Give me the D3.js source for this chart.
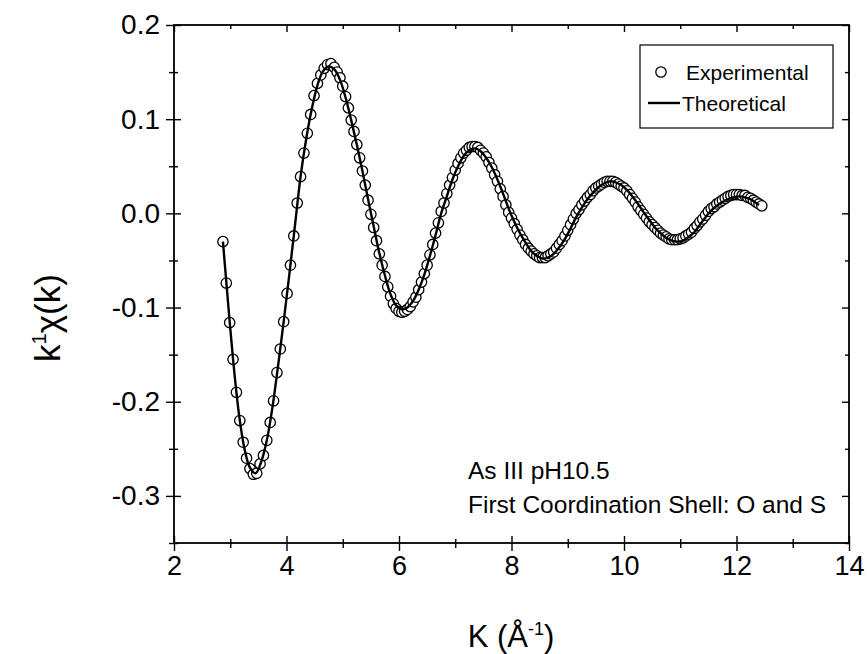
<!DOCTYPE html>
<html><head><meta charset="utf-8">
<script src="https://cdn.jsdelivr.net/npm/d3@7"></script>
<style>
html,body{margin:0;padding:0;background:#fff;}
text{font-family:"Liberation Sans",Arial,Helvetica,sans-serif;fill:#000;}
</style></head>
<body><svg id="chart" width="868" height="654"></svg>
<script>
// ---- data ----
const kExp = [2.87,2.93,2.99,3.05,3.11,3.17,3.23,3.29,3.35,3.41,3.47,3.53,3.59,3.65,3.71,3.77,3.83,3.89,3.95,4.01,4.07,4.13,4.19,4.25,4.31,4.37,4.43,4.49,4.55,4.61,4.67,4.73,4.79,4.85,
4.90,4.95,5.00,5.05,5.10,5.15,5.20,5.25,5.30,5.35,5.40,5.45,5.50,5.55,5.60,5.65,5.70,5.75,5.80,5.85,5.90,5.95,
6.00,6.05,6.10,6.15,6.20,6.25,6.30,6.35,6.40,6.45,6.50,6.55,6.60,6.65,6.70,6.75,6.80,6.85,6.90,6.95,
7.00,7.05,7.10,7.15,7.20,7.25,7.30,7.35,7.40,7.45,7.50,7.55,7.60,7.65,7.70,7.75,7.80,7.85,7.90,7.95,
8.00,8.05,8.10,8.15,8.20,8.25,8.30,8.35,8.40,8.45,8.50,8.55,8.60,8.65,8.70,8.75,8.80,8.85,8.90,8.95,
9.00,9.05,9.10,9.15,9.20,9.25,9.30,9.35,9.40,9.45,9.50,9.55,9.60,9.65,9.70,9.75,9.80,9.85,9.90,9.95,
10.00,10.05,10.10,10.15,10.20,10.25,10.30,10.35,10.40,10.45,10.50,10.55,10.60,10.65,10.70,10.75,10.80,10.85,10.90,10.95,
11.00,11.05,11.10,11.15,11.20,11.25,11.30,11.35,11.40,11.45,11.50,11.55,11.60,11.65,11.70,11.75,11.80,11.85,11.90,11.95,
12.00,12.05,12.10,12.15,12.20,12.25,12.30,12.35,12.40,12.45];
const chiExp = [-0.030,-0.074,-0.116,-0.155,-0.190,-0.220,-0.243,-0.260,-0.271,-0.277,-0.276,-0.266,-0.257,-0.241,-0.222,-0.199,-0.169,-0.144,-0.115,-0.085,-0.055,-0.024,0.011,0.039,0.064,0.085,0.105,0.125,0.138,0.147,0.154,0.158,0.159,0.155,
0.150,0.144,0.135,0.124,0.112,0.099,0.087,0.073,0.059,0.045,0.030,0.014,-0.001,-0.015,-0.029,-0.043,-0.055,-0.067,-0.078,-0.088,-0.096,-0.101,
-0.104,-0.105,-0.104,-0.102,-0.099,-0.094,-0.089,-0.081,-0.073,-0.064,-0.055,-0.044,-0.033,-0.021,-0.010,0.002,0.011,0.021,0.030,0.038,
0.046,0.053,0.059,0.064,0.067,0.070,0.071,0.071,0.070,0.067,0.064,0.060,0.054,0.048,0.041,0.034,0.026,0.018,0.009,0.001,
-0.005,-0.011,-0.017,-0.023,-0.028,-0.033,-0.037,-0.040,-0.043,-0.045,-0.047,-0.047,-0.047,-0.045,-0.043,-0.041,-0.037,-0.033,-0.029,-0.024,
-0.018,-0.012,-0.006,0.000,0.004,0.009,0.013,0.017,0.020,0.024,0.027,0.029,0.031,0.033,0.034,0.034,0.034,0.033,0.031,0.029,
0.027,0.024,0.020,0.016,0.012,0.007,0.003,-0.001,-0.005,-0.009,-0.012,-0.015,-0.018,-0.021,-0.023,-0.025,-0.027,-0.028,-0.028,-0.028,
-0.027,-0.026,-0.024,-0.022,-0.020,-0.016,-0.013,-0.009,-0.006,-0.002,0.002,0.005,0.007,0.010,0.012,0.014,0.016,0.018,0.019,0.020,
0.020,0.020,0.019,0.019,0.017,0.016,0.014,0.012,0.010,0.008];

const kTheo = [2.87,2.95,3.05,3.15,3.25,3.35,3.45,3.55,3.65,3.75,3.85,3.95,4.05,4.15,4.25,4.35,4.45,4.55,4.65,4.75,4.85,4.95,
5.05,5.15,5.25,5.35,5.45,5.55,5.65,5.75,5.85,5.95,6.05,6.15,6.25,6.35,6.45,6.55,6.65,6.75,6.85,6.95,
7.05,7.15,7.25,7.35,7.45,7.55,7.65,7.75,7.85,7.95,8.05,8.15,8.25,8.35,8.45,8.55,8.65,8.75,8.85,8.95,
9.05,9.15,9.25,9.35,9.45,9.55,9.65,9.75,9.85,9.95,10.05,10.15,10.25,10.35,10.45,10.55,10.65,10.75,10.85,10.95,
11.05,11.15,11.25,11.35,11.45,11.55,11.65,11.75,11.85,11.95,12.05,12.15,12.25,12.35,12.40];
const chiTheo = [-0.030,-0.087,-0.155,-0.211,-0.249,-0.270,-0.276,-0.264,-0.241,-0.206,-0.162,-0.115,-0.065,-0.013,0.039,0.079,0.111,0.136,0.151,0.156,0.153,0.142,
0.123,0.099,0.073,0.045,0.015,-0.014,-0.042,-0.066,-0.086,-0.098,-0.102,-0.100,-0.093,-0.081,-0.065,-0.045,-0.023,0.000,0.018,0.036,
0.050,0.061,0.067,0.069,0.066,0.059,0.049,0.036,0.021,0.005,-0.009,-0.021,-0.031,-0.040,-0.045,-0.048,-0.047,-0.043,-0.036,-0.027,
-0.016,-0.004,0.006,0.015,0.022,0.028,0.032,0.034,0.033,0.030,0.025,0.018,0.010,0.001,-0.007,-0.015,-0.021,-0.026,-0.029,-0.030,
-0.029,-0.025,-0.020,-0.012,-0.004,0.003,0.008,0.012,0.015,0.017,0.018,0.017,0.015,0.011,0.009];

const xTickValues = [2,4,6,8,10,12,14];
const xTickLabels = ["2","4","6","8","10","12","14"];
const xMinorValues = [3,5,7,9,11,13];
const yTickValues = [0.2,0.1,0.0,-0.1,-0.2,-0.3];
const yTickLabels = ["0.2","0.1","0.0","-0.1","-0.2","-0.3"];
const yMinorValues = [0.15,0.05,-0.05,-0.15,-0.25,-0.35];
const legendLabels = ["Experimental","Theoretical"];
const noteLines = ["As III pH10.5","First Coordination Shell: O and S"];

// ---- layout ----
const svg = d3.select("#chart");
const L = 174, R = 849, T = 25, B = 543;
const x = d3.scaleLinear().domain([2,14]).range([L,R]);
const y = d3.scaleLinear().domain([-0.35,0.2]).range([B,T]);

function styleAxis(g){
  g.select(".domain").remove();
  g.selectAll(".tick line").attr("stroke","#000").attr("stroke-width",1.4);
  g.selectAll(".tick text").attr("font-family",'"Liberation Sans",Arial,sans-serif');
}
// bottom: outward with labels, inward
svg.append("g").attr("transform",`translate(0,${B})`)
  .call(d3.axisBottom(x).tickValues(xTickValues).tickFormat((d,i)=>xTickLabels[i]).tickSize(8).tickPadding(5))
  .call(styleAxis)
  .call(g=>g.selectAll(".tick text").attr("font-size",27));
svg.append("g").attr("transform",`translate(0,${B})`)
  .call(d3.axisBottom(x).tickValues(xMinorValues).tickFormat("").tickSize(5)).call(styleAxis);
svg.append("g").attr("transform",`translate(0,${B})`)
  .call(d3.axisBottom(x).tickValues(xTickValues).tickFormat("").tickSize(-7)).call(styleAxis);
svg.append("g").attr("transform",`translate(0,${B})`)
  .call(d3.axisBottom(x).tickValues(xMinorValues).tickFormat("").tickSize(-4)).call(styleAxis);
// top: inward
svg.append("g").attr("transform",`translate(0,${T})`)
  .call(d3.axisTop(x).tickValues(xTickValues).tickFormat("").tickSize(-7)).call(styleAxis);
svg.append("g").attr("transform",`translate(0,${T})`)
  .call(d3.axisTop(x).tickValues(xMinorValues).tickFormat("").tickSize(-4)).call(styleAxis);
// left
svg.append("g").attr("transform",`translate(${L},0)`)
  .call(d3.axisLeft(y).tickValues(yTickValues).tickFormat((d,i)=>yTickLabels[i]).tickSize(8).tickPadding(6))
  .call(styleAxis)
  .call(g=>g.selectAll(".tick text").attr("font-size",28));
svg.append("g").attr("transform",`translate(${L},0)`)
  .call(d3.axisLeft(y).tickValues(yMinorValues).tickFormat("").tickSize(5)).call(styleAxis);
svg.append("g").attr("transform",`translate(${L},0)`)
  .call(d3.axisLeft(y).tickValues(yTickValues).tickFormat("").tickSize(-7)).call(styleAxis);
svg.append("g").attr("transform",`translate(${L},0)`)
  .call(d3.axisLeft(y).tickValues(yMinorValues).tickFormat("").tickSize(-4)).call(styleAxis);
// right: inward
svg.append("g").attr("transform",`translate(${R},0)`)
  .call(d3.axisRight(y).tickValues(yTickValues).tickFormat("").tickSize(-7)).call(styleAxis);
svg.append("g").attr("transform",`translate(${R},0)`)
  .call(d3.axisRight(y).tickValues(yMinorValues).tickFormat("").tickSize(-4)).call(styleAxis);

// frame
svg.append("rect").attr("x",L).attr("y",T).attr("width",R-L).attr("height",B-T)
  .attr("fill","none").attr("stroke","#000").attr("stroke-width",1.8);

// experimental circles
const expData = kExp.map((k,i)=>({k, v: chiExp[i]}));
svg.append("g").selectAll("circle").data(expData).join("circle")
  .attr("cx",d=>x(d.k)).attr("cy",d=>y(d.v)).attr("r",5.2)
  .attr("fill","#fff").attr("stroke","#000").attr("stroke-width",1.3);

// theoretical line
const theoData = kTheo.map((k,i)=>({k, v: chiTheo[i]}));
svg.append("path").datum(theoData)
  .attr("d", d3.line().x(d=>x(d.k)).y(d=>y(d.v)).curve(d3.curveCatmullRom.alpha(0.5)))
  .attr("fill","none").attr("stroke","#000").attr("stroke-width",2.4).attr("stroke-linejoin","round");

// legend
const lg = svg.append("g");
lg.append("rect").attr("x",640).attr("y",45).attr("width",193).attr("height",83)
  .attr("fill","#fff").attr("stroke","#000").attr("stroke-width",1.2);
lg.append("circle").attr("cx",661).attr("cy",72).attr("r",5.2).attr("fill","#fff").attr("stroke","#000").attr("stroke-width",1.3);
lg.append("text").attr("x",686).attr("y",80).attr("font-size",21).text(legendLabels[0]);
lg.append("line").attr("x1",648).attr("x2",680).attr("y1",103).attr("y2",103).attr("stroke","#000").attr("stroke-width",2.4);
lg.append("text").attr("x",682).attr("y",111).attr("font-size",21).text(legendLabels[1]);

// annotation
svg.append("text").attr("x",468).attr("y",479).attr("font-size",24.5).text(noteLines[0]);
svg.append("text").attr("x",468).attr("y",513).attr("font-size",24.5).text(noteLines[1]);

// axis titles
const xt = svg.append("text").attr("x",511).attr("y",647).attr("text-anchor","middle").attr("font-size",31);
xt.append("tspan").text("K (Å");
xt.append("tspan").attr("dy",-12).attr("font-size",18).text("-1");
xt.append("tspan").attr("dy",12).text(")");

const yt = svg.append("text").attr("transform","translate(60,318) rotate(-90)").attr("text-anchor","middle").attr("font-size",35);
yt.append("tspan").text("k");
yt.append("tspan").attr("dy",-14).attr("font-size",20).text("1");
yt.append("tspan").attr("dy",14).text("χ(k)");
</script></body></html>
